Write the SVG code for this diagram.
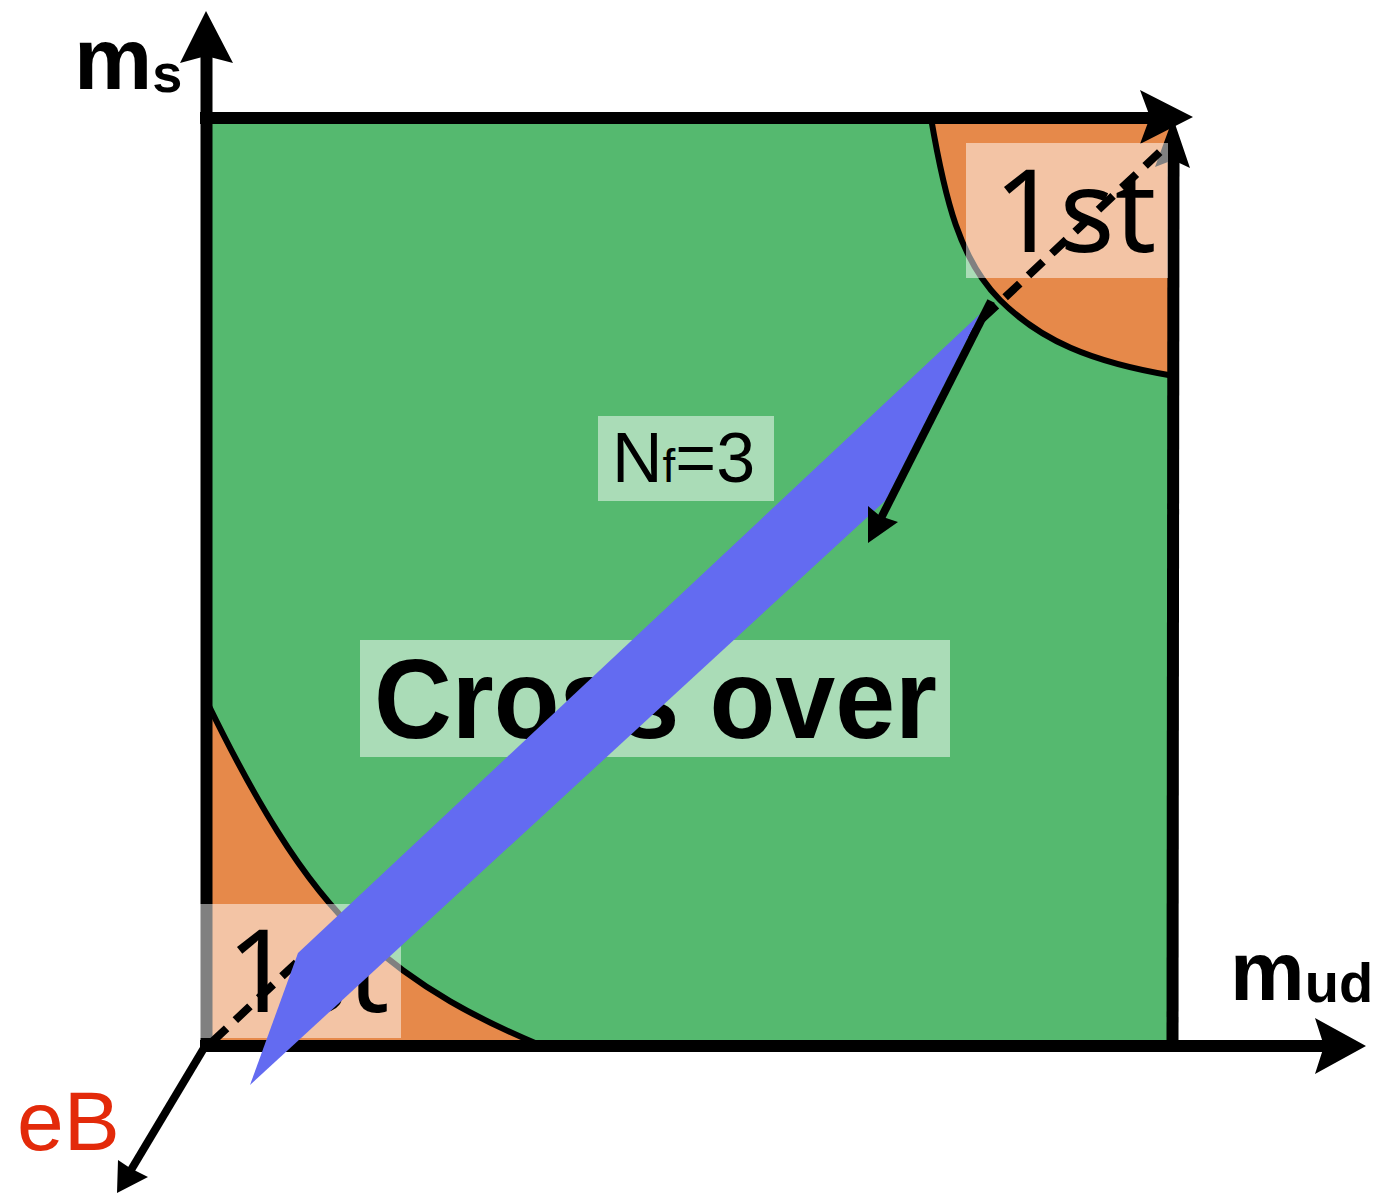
<svg xmlns="http://www.w3.org/2000/svg" width="1378" height="1194" viewBox="0 0 1378 1194">
<style>
.ax{stroke:#000;stroke-width:12;fill:none}
.thin{stroke:#000;stroke-width:8;fill:none}
.curve{stroke:#000;stroke-width:6;fill:none}
.head{fill:#000}
.orange{fill:#E6894A}
.box{fill:#fff;fill-opacity:0.5}
.lbl{font-family:"Liberation Sans",Arial,sans-serif;fill:#000}
.first{font-family:"Noto Sans","DejaVu Sans",sans-serif;font-size:115px;fill:#000}
</style>
<rect x="0" y="0" width="1378" height="1194" fill="#fff"/>
<g id="region-crossover">
<rect x="206" y="118" width="966" height="928" fill="#55B96F"/>
</g>
<g id="region-1st-top">
<path class="orange" d="M931 118 L1172 118 L1172 376 C1090 362 1040 340 1000 300 C960 260 945 200 931 118 Z"/>
<path class="curve" d="M931 118 C945 200 960 260 1000 300 C1040 340 1090 362 1174 376"/>
</g>
<g id="region-1st-bottom">
<path class="orange" d="M208 704 C250 790 300 880 360 935 C420 990 480 1020 542 1046 L206 1046 Z"/>
<path class="curve" d="M208 704 C250 790 300 880 360 935 C420 990 480 1020 542 1046"/>
</g>
<g id="connectors">
<line class="ax" x1="206.5" y1="1052" x2="206.5" y2="55"/>
<polygon class="head" points="206,11 233,63 206,56 180,63"/>
<line class="ax" x1="200" y1="1046" x2="1330" y2="1046"/>
<polygon class="head" points="1366,1046 1315,1074 1324,1046 1315,1018"/>
<line class="ax" x1="200" y1="118" x2="1160" y2="118"/>
<line class="ax" x1="1172.5" y1="1052" x2="1173.5" y2="150"/>
<polygon class="head" points="1173,118 1190,168 1173,160 1155,167"/>
<polygon class="head" points="1193,117 1140,144 1150,117 1140,90"/>
<line class="thin" x1="207" y1="1043" x2="128" y2="1175"/>
<polygon class="head" points="117,1193 118,1160 130,1168 148,1177"/>
</g>
<g id="label-1st-top">
<rect class="box" x="966" y="143" width="202" height="135"/>
<text class="first" x="1075" y="252" text-anchor="middle">1st</text>
</g>
<g id="label-1st-bottom">
<rect class="box" x="200" y="904" width="201" height="134"/>
<text class="first" x="308" y="1012" text-anchor="middle">1st</text>
</g>
<g id="label-nf">
<rect class="box" x="598" y="416" width="176" height="85"/>
<text class="lbl" x="612" y="482" font-size="70">N<tspan font-size="46">f</tspan>=3</text>
</g>
<g id="label-crossover">
<rect class="box" x="360" y="640" width="590" height="117"/>
<text class="lbl" x="374" y="738" font-size="114" font-weight="bold" textLength="563" lengthAdjust="spacingAndGlyphs">Cross over</text>
</g>
<g id="connectors-dashed">
<line class="thin" x1="212" y1="1042" x2="1162" y2="150" stroke-dasharray="20 12"/>
</g>
<g id="band">
<polygon points="250,1085 298,953 980,314 886,500" fill="#636BF1"/>
</g>
<g id="connectors-arrow">
<line class="thin" x1="991" y1="301" x2="876" y2="528"/>
<polygon class="head" points="868,543 868,506 880,516 898,522"/>
</g>
<g id="axis-labels">
<text class="lbl" x="74" y="89" font-size="88" font-weight="bold">m<tspan font-size="54" dy="3">s</tspan></text>
<text class="lbl" x="1230" y="1000" font-size="84" font-weight="bold">m<tspan font-size="56" dy="2">ud</tspan></text>
<text x="17" y="1150" font-family="Liberation Sans,Arial,sans-serif" font-size="84" fill="#E32A0A">eB</text>
</g>
</svg>
